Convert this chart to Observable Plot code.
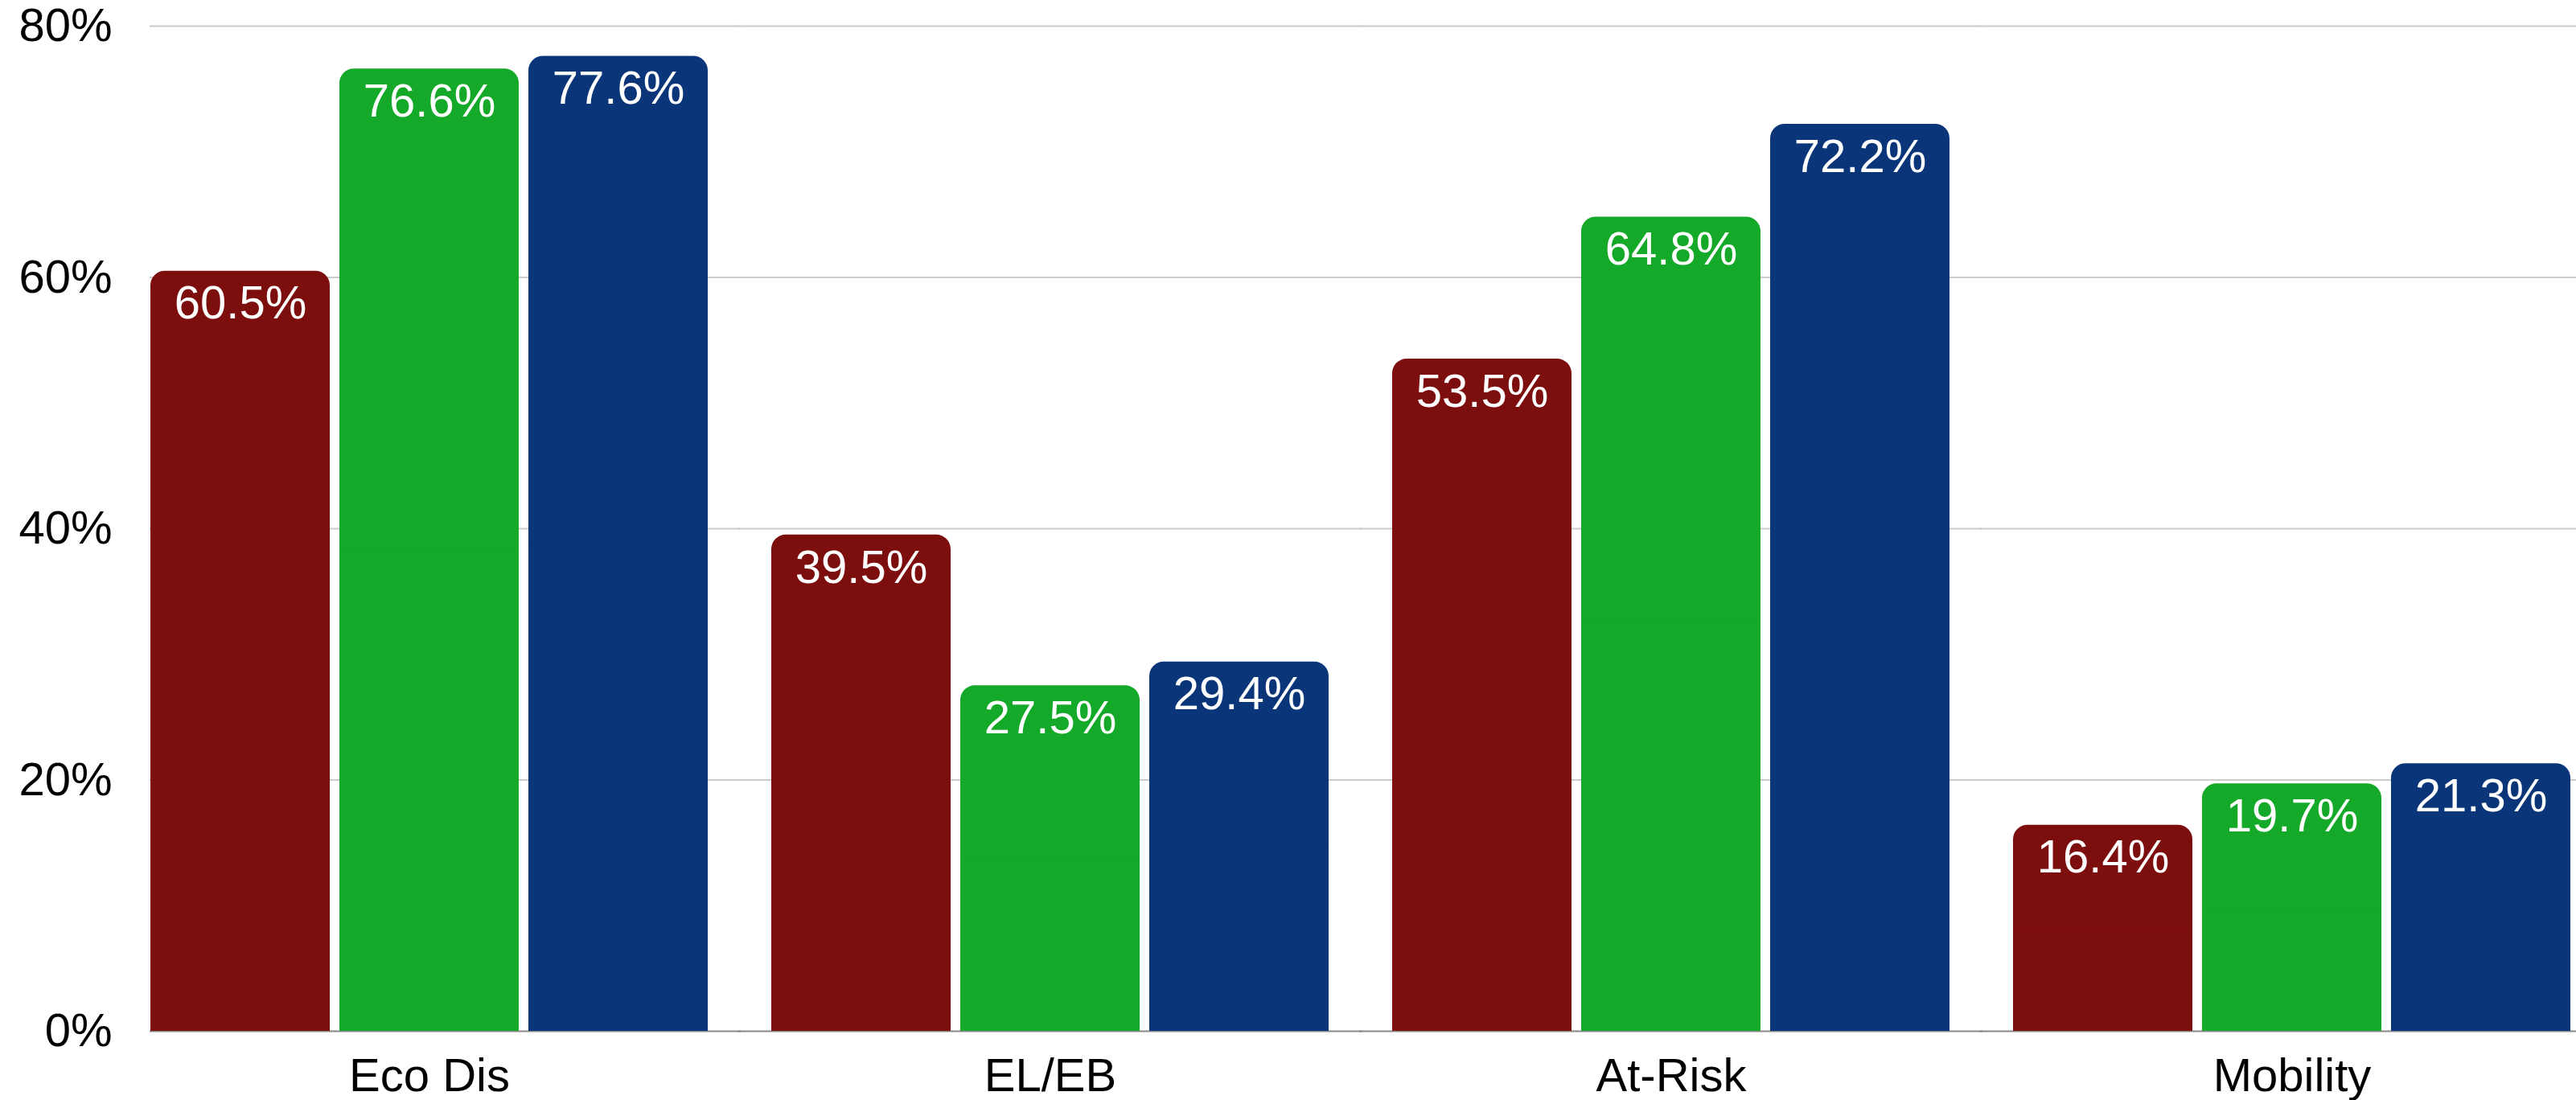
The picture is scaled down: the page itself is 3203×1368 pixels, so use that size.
<!DOCTYPE html>
<html>
<head>
<meta charset="utf-8">
<script src="https://cdn.jsdelivr.net/npm/d3@7"></script>
<script src="https://cdn.jsdelivr.net/npm/@observablehq/plot@0.6"></script>
<style>
  html, body { margin: 0; padding: 0; background: #fff; }
  #chart svg { display: block; }
</style>
</head>
<body>
<div id="chart"></div>
<script>
const categories = ["Eco Dis", "EL/EB", "At-Risk", "Mobility"];
const seriesNames = ["Series 1", "Series 2", "Series 3"];
const seriesColors = ["#7d0e0e", "#14a928", "#0a3679"];
const values1 = [60.5, 39.5, 53.5, 16.4];
const values2 = [76.6, 27.5, 64.8, 19.7];
const values3 = [77.6, 29.4, 72.2, 21.3];
const yTicks = [0, 20, 40, 60, 80];

const allValues = [values1, values2, values3];
const data = [];
categories.forEach((c, i) => {
  seriesNames.forEach((s, j) => {
    data.push({category: c, series: s, value: allValues[j][i]});
  });
});
const gridData = [];
categories.forEach(c => yTicks.forEach(t => gridData.push({category: c, tick: t})));

const half = 40;
const gridFirst = gridData.filter(d => d.category === categories[0]);
const gridRest = gridData.filter(d => d.category !== categories[0]);

const chart = Plot.plot({
  width: 3203,
  height: 1368,
  marginLeft: 184,
  marginRight: 5,
  marginTop: 32,
  marginBottom: 86,
  style: {fontFamily: "'Liberation Sans', Arial, sans-serif", background: "#fff"},
  fx: {domain: categories, paddingInner: 0.1, paddingOuter: 0, label: null},
  x: {domain: seriesNames, paddingInner: 0.05, paddingOuter: 0, axis: null},
  y: {domain: [0, 80], label: null},
  color: {domain: seriesNames, range: seriesColors},
  marks: [
    Plot.ruleY(gridFirst.filter(d => d.tick > 0), {fx: "category", y: "tick", stroke: "#cccccc", strokeWidth: 2, insetLeft: 0, insetRight: -half}),
    Plot.ruleY(gridRest.filter(d => d.tick > 0), {fx: "category", y: "tick", stroke: "#cccccc", strokeWidth: 2, insetLeft: -half, insetRight: -half}),
    Plot.ruleY(gridFirst.filter(d => d.tick === 0), {fx: "category", y: "tick", stroke: "#888888", strokeWidth: 2, insetLeft: 0, insetRight: -half}),
    Plot.ruleY(gridRest.filter(d => d.tick === 0), {fx: "category", y: "tick", stroke: "#888888", strokeWidth: 2, insetLeft: -half, insetRight: -half}),
    Plot.barY(data, {fx: "category", x: "series", y: "value", fill: "series", rx: 18}),
    Plot.barY(data, {fx: "category", x: "series", y1: 0, y2: d => d.value / 2, fill: "series"}),
    Plot.text(data, {
      fx: "category", x: "series", y: "value",
      text: d => d.value.toFixed(1) + "%",
      fill: "white", fontSize: 58, lineAnchor: "top", dy: 18
    }),
    Plot.axisY(yTicks, {tickSize: 0, tickPadding: 47, fontSize: 58, label: null, tickFormat: d => d + "%", fill: "#000"}),
    Plot.axisFx({anchor: "bottom", tickSize: 0, tickPadding: 33, fontSize: 58, label: null, fill: "#000"})
  ]
});
document.getElementById("chart").appendChild(chart);
</script>
</body>
</html>
